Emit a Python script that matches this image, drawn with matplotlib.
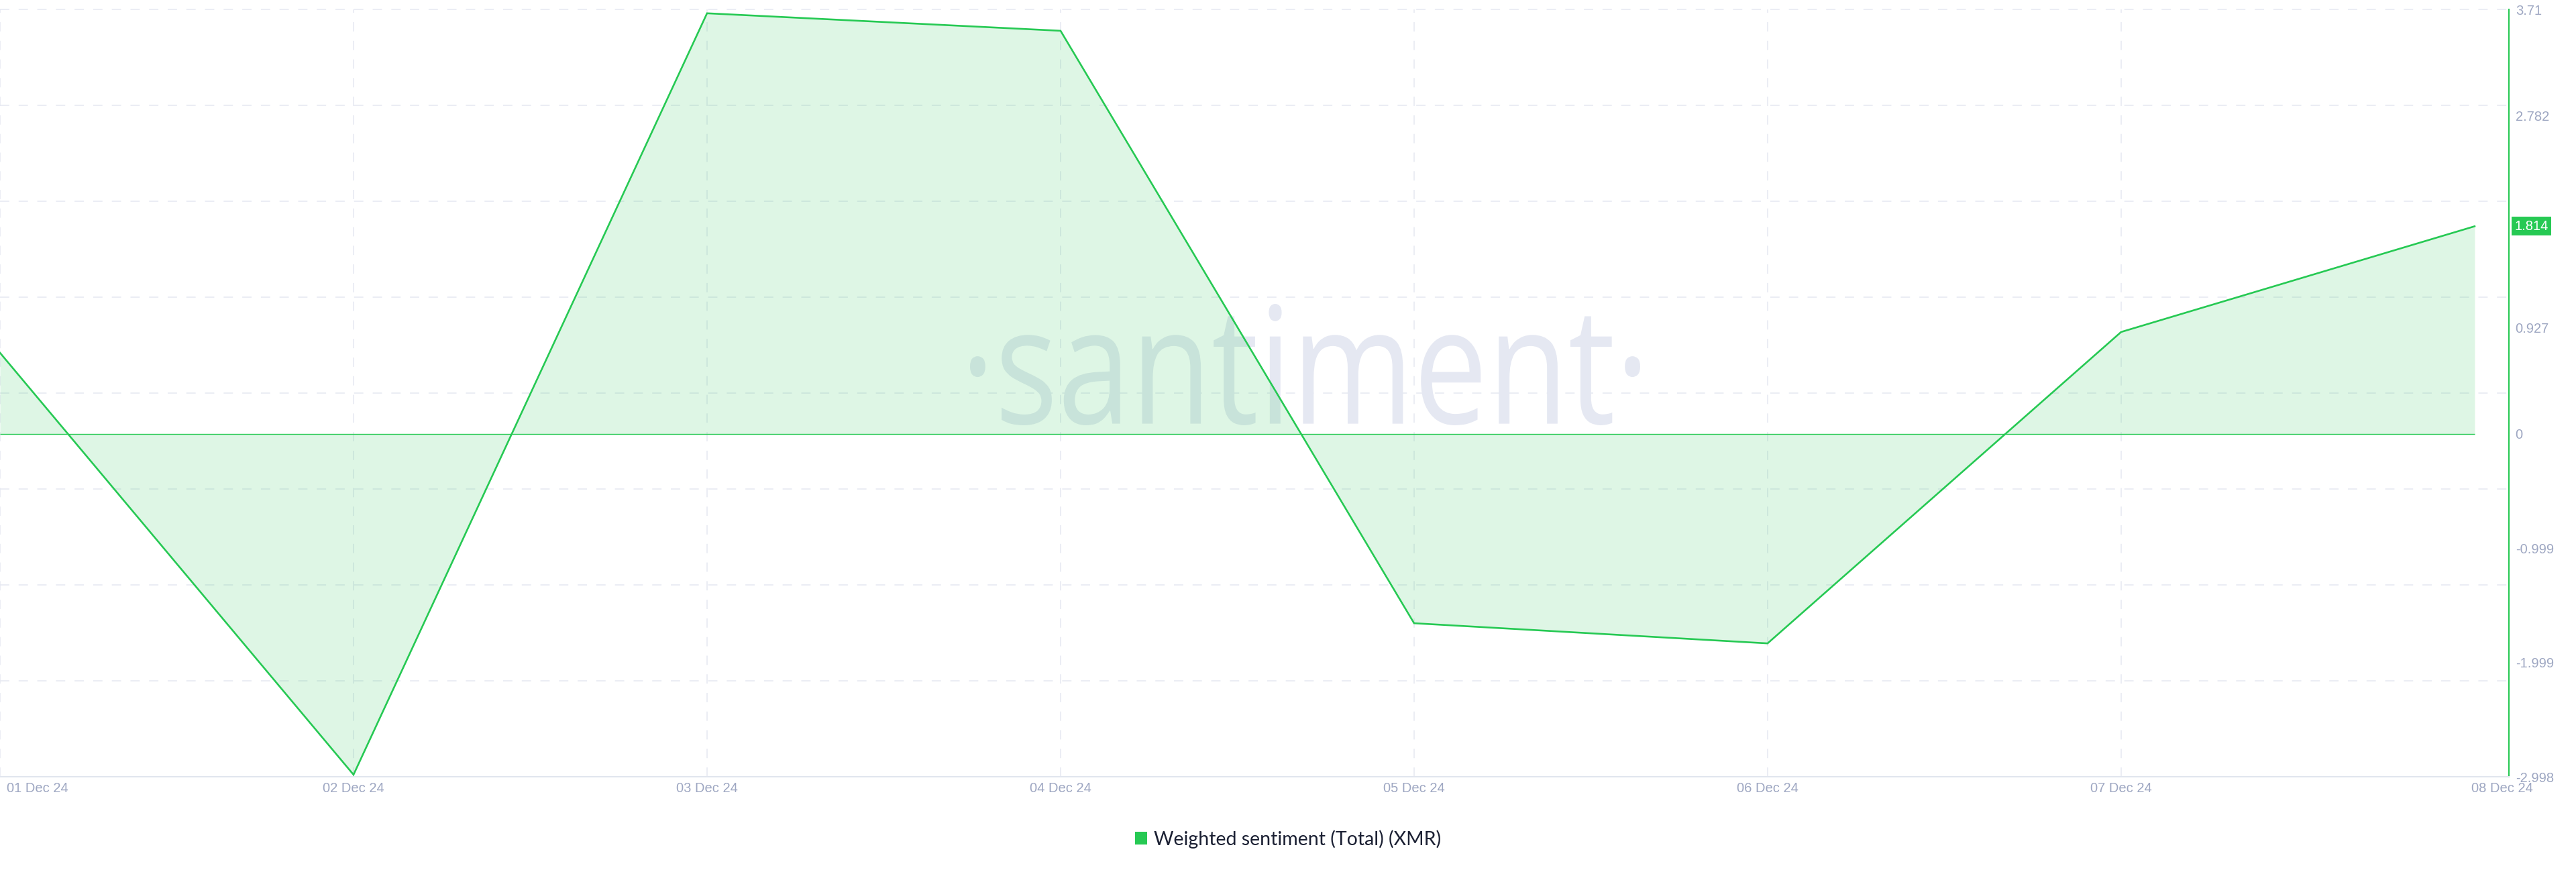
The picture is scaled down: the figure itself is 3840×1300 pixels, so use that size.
"""Santiment-style weighted sentiment chart for XMR, 01-08 Dec 2024."""
import matplotlib
matplotlib.use("Agg")
import matplotlib.pyplot as plt
import numpy as np
from matplotlib.font_manager import FontProperties
from matplotlib.patches import Patch, PathPatch
from matplotlib.textpath import TextPath
from matplotlib.transforms import Affine2D, IdentityTransform, ScaledTranslation

# data
dates = ["01 Dec 24", "02 Dec 24", "03 Dec 24", "04 Dec 24",
         "05 Dec 24", "06 Dec 24", "07 Dec 24", "08 Dec 24"]
sentiment = [0.708, -2.98, 3.676, 3.523, -1.656, -1.832, 0.890, 1.814]
ytick_vals = [3.71, 2.782, 1.855, 0.927, 0, -0.999, -1.999, -2.998]
ytick_labels = ["3.71", "2.782", "1.855", "0.927", "0", "-0.999",
                "-1.999", "-2.998"]
last_label = "1.814"
series_name = "Weighted sentiment (Total) (XMR)"

GREEN = "#26c953"
GRID = "#e6e8f1"
TICK = "#9ea7c2"
plt.rcParams["lines.scale_dashes"] = False

DPI = 100
W, H = 3840, 1300
fig = plt.figure(figsize=(W / DPI, H / DPI), dpi=DPI)
ax = fig.add_axes([0, 142 / H, 3740 / W, 1144 / H])
x = np.arange(len(dates))
ymin, ymax = ytick_vals[-1], ytick_vals[0]
ax.set_xlim(0, 7.097)
ax.set_ylim(ymin, ymax)

# grid: 8 equal horizontal bands, one vertical line per date (not the last)
for gy in np.linspace(ymin, ymax, 9)[1:]:
    ax.axhline(gy, color=GRID, lw=1.1, ls=(0, (10, 10)), zorder=0,
               clip_on=False)
for gx in x[:-1]:
    ax.axvline(gx, color=GRID, lw=1.1, ls=(0, (10, 10)), zorder=0)

# watermark, squeezed into its pixel box
tp = TextPath((0, 0), "\u00b7santiment\u00b7",
              prop=FontProperties(family="Open Sans"), size=100)
ext = tp.get_extents()
x0, x1 = 1446, 2445          # left/right, pixels
y0, y1 = H - 634, H - 453    # bottom/top, display pixels
tr = (Affine2D().translate(-ext.x0, -ext.y0)
      .scale((x1 - x0) / ext.width, (y1 - y0) / ext.height)
      .translate(x0, y0))
wm = PathPatch(tr.transform_path(tp), fc="#e5e8f2", ec="none", zorder=0.5)
wm.set_transform(IdentityTransform())
ax.add_artist(wm)

# series
ax.fill_between(x, sentiment, 0, color=GREEN, alpha=0.15, lw=0, zorder=1)
ax.hlines(0, x[0], x[-1], color=GREEN, lw=1.0, zorder=2)
ax.plot(x, sentiment, color=GREEN, lw=1.9, zorder=3,
        solid_joinstyle="miter")

# spines
for s in ("top", "left"):
    ax.spines[s].set_visible(False)
ax.spines["bottom"].set_color("#e1e5ee")
ax.spines["bottom"].set_linewidth(1.4)
ax.spines["right"].set_color(GREEN)
ax.spines["right"].set_linewidth(1.5)

# ticks
ax.yaxis.tick_right()
ax.set_yticks(ytick_vals, ytick_labels)
ax.set_xticks(x, dates)
ax.tick_params(axis="both", length=0, labelcolor=TICK, labelsize=14.5)
ax.tick_params(axis="y", pad=7)
ax.tick_params(axis="x", pad=6)
for lab in ax.get_xticklabels() + ax.get_yticklabels():
    lab.set_family("Liberation Sans")
xl = ax.get_xticklabels()
xl[0].set_ha("left")
xl[0].set_transform(xl[0].get_transform()
                    + ScaledTranslation(10 / DPI, 0, fig.dpi_scale_trans))
xl[-1].set_transform(xl[-1].get_transform()
                     + ScaledTranslation(41 / DPI, 0, fig.dpi_scale_trans))

# last value tag
ax.annotate(last_label, xy=(1, sentiment[-1]),
            xycoords=("axes fraction", "data"),
            xytext=(8, 0), textcoords="offset pixels",
            ha="left", va="center", color="white", fontsize=14.5,
            family="Liberation Sans", zorder=6, annotation_clip=False,
            bbox=dict(boxstyle="square,pad=0.22", fc=GREEN, ec="none"))

# legend
fig.legend(handles=[Patch(fc=GREEN, ec="none", label=series_name)],
           loc="center", bbox_to_anchor=(0.5, 49 / H), frameon=False,
           handlelength=0.63, handleheight=0.63, handletextpad=0.35,
           prop=FontProperties(family="Lato", size=20.5),
           labelcolor="#1b2033")

fig.savefig("out.png", dpi=DPI)
